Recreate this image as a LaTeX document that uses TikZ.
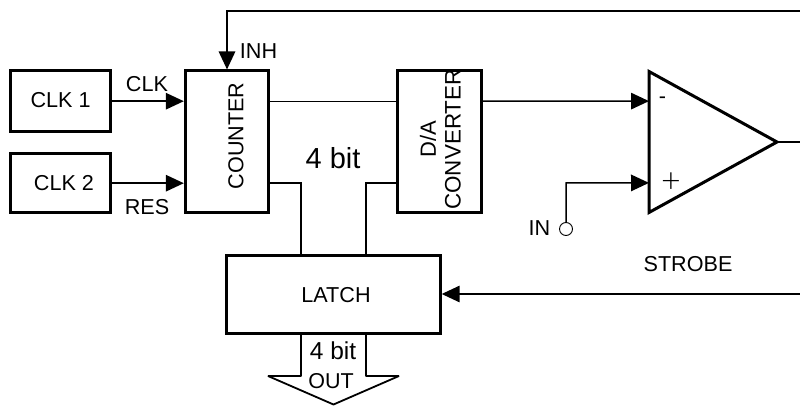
\documentclass[tikz,border=0pt]{standalone}
\usepackage{fontspec}
\setmainfont{Liberation Sans}
\newfontfamily\lightfont{Lato Light}
\usetikzlibrary{arrows.meta,calc}
\tikzset{
  block/.style={draw=black,line width=3pt,fill=white,inner sep=0pt,minimum width=#1},
  lab/.style={inner sep=0pt,text=black,font=\fontsize{21.6}{24}\selectfont},
  wire/.style={draw=black,line width=1.5pt},
  thinwire/.style={draw=black,line width=1.2pt},
  arr/.style={wire,-{Triangle[length=18pt,width=16.5pt]}},
  thickout/.style={draw=black,line width=1.8pt,line join=bevel},
}
\begin{document}
\begin{tikzpicture}[x=1pt,y=-1pt]
\useasboundingbox (0,0) rectangle (800,406);
% blocks
\node[block=99.3pt,minimum height=60.5pt] (clk1) at (60.4,101.2) {};
\node[block=99.3pt,minimum height=58.5pt] (clk2) at (60.4,183.2) {};
\node[block=83.4pt,minimum height=141.7pt] (counter) at (227,141.8) {};
\node[block=84.2pt,minimum height=141.7pt] (da) at (439.4,141.8) {};
\node[block=213.4pt,minimum height=78pt] (latch) at (333.5,294) {};
% comparator
\coordinate (ta) at (649,71.5);
\coordinate (tb) at (649,212.5);
\coordinate (tc) at (777,142);
\draw[black,line width=3pt,line join=miter] (ta) -- (tb) -- (tc) -- cycle;
% free ends
\coordinate (topleft) at (227,11);
\coordinate (topright) at (800,11);
\coordinate (outright) at (800,142);
\coordinate (strobeR) at (800,294);
\coordinate (inCorner) at (566,183);
\coordinate (cntLow) at (301,183);
\coordinate (daLow) at (366,183);
\node[draw=black,line width=0.9pt,circle,inner sep=0pt,minimum size=13pt,fill=white] (inpin) at (566,229) {};
% connectors
\draw[arr] (clk1.east) -- (counter.west |- clk1.east);
\draw[arr] (clk2.east) -- (counter.west |- clk2.east);
\draw[thinwire] (counter.east |- clk1.east) -- (da.west |- clk1.east);
\draw[thinwire] (counter.east |- cntLow) -- (cntLow) -- (cntLow |- latch.north);
\draw[thinwire] (da.west |- daLow) -- (daLow) -- (daLow |- latch.north);
\draw[arr] (da.east |- clk1.east) -- ($(ta)!0.21!(tb)$);
\draw[arr] (inpin.north) -- (inCorner) -- ($(ta)!0.79!(tb)$);
\draw[wire] (tc) -- (outright);
\draw[arr] (topright) -- (topleft) -- (counter.north -| topleft);
\draw[arr] (strobeR) -- (latch.east);
% output arrow
\coordinate (oa) at (301,334);
\coordinate (ob) at (301,376);
\coordinate (oc) at (268,376);
\coordinate (od) at (333.5,404.5);
\coordinate (oe) at (399,376);
\coordinate (of) at (366,376);
\coordinate (og) at (366,334);
\draw[thickout] (oa) -- (ob) -- (oc) -- (od) -- (oe) -- (of) -- (og);
% labels
\node[lab] (lclk1) at (60.6,100.5) {CLK 1};
\node[lab] (lclk2) at (64,183) {CLK 2};
\node[lab] (lclk) at (147,84) {CLK};
\node[lab] (lres) at (147,207) {RES};
\node[lab] (linh) at (258.5,51) {INH};
\node[lab,rotate=90] (lcnt) at (236,136) {COUNTER};
\node[lab,font=\fontsize{29}{32}\selectfont] (l4bit) at (333,158) {4 bit};
\node[lab,rotate=90,font=\fontsize{22}{24}\selectfont] (lda) at (428,139) {D/A};
\node[lab,rotate=90,font=\fontsize{22.4}{24}\selectfont] (lconv) at (453,139.5) {CONVERTER};
\node[lab] (lminus) at (662.5,100) {-};
\node[lab,font=\lightfont\fontsize{34}{36}\selectfont] (lplus) at (671,183) {+};
\node[lab] (lin) at (539.5,228) {IN};
\node[lab] (lstrobe) at (688,264.5) {STROBE};
\node[lab] (llatch) at (336,295) {LATCH};
\node[lab,font=\fontsize{24.5}{26}\selectfont] (lb4) at (333,351) {4 bit};
\node[lab,font=\fontsize{21.5}{24}\selectfont] (lout) at (331,381) {OUT};
\end{tikzpicture}
\end{document}
